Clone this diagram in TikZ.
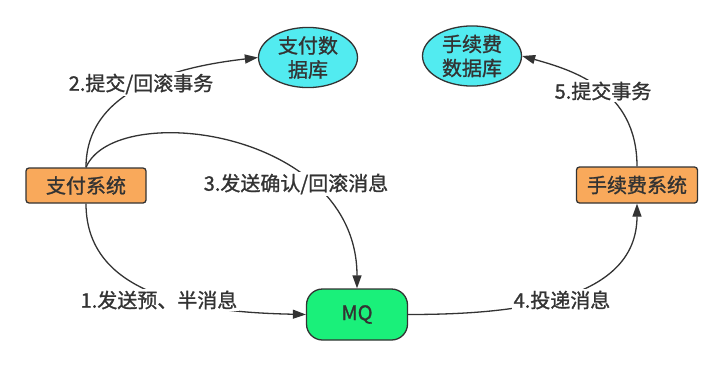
\documentclass[tikz,border=0pt]{standalone}
\usepackage{fontspec}
\setmainfont[FakeBold=1.2]{Noto Sans CJK SC}
\usetikzlibrary{arrows.meta,shapes.geometric}
\definecolor{orangebox}{HTML}{F9A95B}
\definecolor{cyandb}{HTML}{52EBF0}
\definecolor{greenmq}{HTML}{1AF07A}
\definecolor{ink}{HTML}{333333}
\begin{document}
\begin{tikzpicture}[x=1pt,y=-1pt,
  font=\fontsize{20}{24}\selectfont,
  every node/.style={text=ink},
  sysbox/.style={draw=ink, line width=1.3pt, fill=orangebox, rounded corners=3pt, minimum width=120pt, minimum height=35pt, inner sep=0pt},
  dbell/.style={draw=ink, line width=1.3pt, fill=cyandb, ellipse, minimum width=99pt, minimum height=52pt, inner sep=0pt, align=center},
  mqbox/.style={draw=ink, line width=1.3pt, fill=greenmq, rounded corners=16pt, minimum width=101pt, minimum height=51pt, inner sep=0pt},
  conn/.style={draw=ink, line width=1.3pt, -{Triangle[length=13pt,width=9pt]}},
  lbl/.style={fill=white, inner sep=1.5pt}
]
\useasboundingbox (0,0) rectangle (722,364);
\node[sysbox] (pay) at (86,185.5) {支付系统};
\node[sysbox, minimum width=121pt, minimum height=36pt] (fee) at (637,185) {手续费系统};
\node[dbell] (paydb) at (308,57.5) {支付数\\据库};
\node[dbell, minimum height=57pt] (feedb) at (472,56) {手续费\\数据库};
\node[mqbox] (mq) at (357,314.5) {MQ};

\draw[conn] (pay.south) .. controls +(0,98) and +(-94,-2) .. (mq.west);
\draw[conn] (pay.north) .. controls +(0,-83) and +(-69,8) .. (paydb.west);
\draw[conn] (pay.north) .. controls +(29,-68) and +(0,-159) .. (mq.north);
\draw[conn] (mq.east) .. controls +(100,0) and +(0,100) .. (fee.south);
\draw[conn] (fee.north) .. controls +(0,-77) and +(50,14) .. (feedb.east);

\node[lbl] (l1) at (159,300) {1.发送预、半消息};
\node[lbl] (l2) at (141,84) {2.提交/回滚事务};
\node[lbl] (l3) at (296,184) {3.发送确认/回滚消息};
\node[lbl] (l4) at (562,300) {4.投递消息};
\node[lbl] (l5) at (603,91) {5.提交事务};
\end{tikzpicture}
\end{document}
